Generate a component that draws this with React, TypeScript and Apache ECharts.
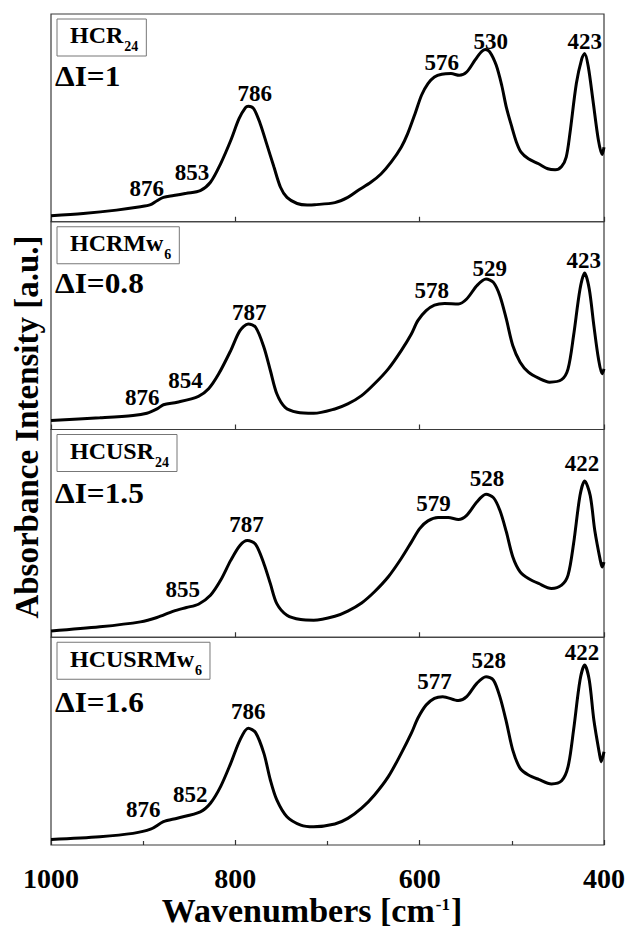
import React, { useEffect, useRef } from 'react';
import * as echarts from 'echarts';

const FONT = "'Liberation Serif', 'Times New Roman', serif";

// ---- data (wavenumber [cm-1], absorbance in relative panel units) ----
const xTickValues = [1000, 800, 600, 400];

const hcr24Wn = [1000, 965, 929, 903, 892, 885, 878, 867, 853, 838, 827, 816, 805, 796, 789, 786, 780, 773, 766, 758, 751, 744, 733, 722, 714, 692, 678, 667, 653, 642, 631, 620, 613, 605, 598, 591, 584, 576, 566, 557, 549, 540, 533, 529, 524, 517, 511, 506, 500, 495, 490, 482, 471, 461, 453, 446, 441, 437, 430, 424, 421, 417, 412, 406, 402, 400];
const hcr24Abs = [2.9, 4.0, 5.6, 7.2, 8.2, 10.1, 11.7, 12.6, 13.7, 15.0, 19.0, 27.9, 39.1, 49.6, 54.9, 55.6, 54.4, 47.2, 37.5, 26.2, 16.6, 11.7, 8.8, 8.1, 8.2, 9.2, 11.7, 15.0, 19.0, 23.0, 28.7, 35.9, 42.4, 52.0, 60.9, 66.5, 69.7, 71.0, 71.3, 70.5, 72.1, 77.8, 81.8, 82.9, 81.8, 75.4, 65.7, 55.2, 45.6, 38.3, 33.5, 30.3, 27.9, 25.5, 25.0, 26.6, 31.1, 42.4, 66.5, 78.6, 81.0, 74.5, 58.5, 39.1, 32.4, 35.9];

const hcrmw6Wn = [1000, 947, 911, 896, 885, 878, 863, 840, 829, 818, 805, 795, 786, 778, 769, 762, 755, 746, 733, 715, 692, 678, 663, 649, 634, 620, 609, 602, 593, 584, 573, 558, 549, 538, 528, 520, 513, 506, 499, 491, 482, 471, 459, 446, 439, 433, 426, 421, 416, 411, 406, 402, 400];
const hcrmw6Abs = [4.3, 5.6, 6.7, 7.8, 9.9, 11.9, 13.1, 16.0, 19.6, 26.8, 38.0, 47.6, 50.8, 49.2, 39.6, 28.4, 17.2, 10.7, 8.3, 7.8, 9.9, 12.3, 16.3, 22.0, 29.2, 38.0, 46.0, 52.4, 57.2, 59.9, 60.7, 60.4, 62.8, 69.2, 72.4, 70.8, 64.4, 53.2, 40.4, 32.4, 27.6, 24.7, 22.8, 24.0, 29.2, 45.2, 67.6, 75.3, 67.6, 50, 34, 26.8, 29.2];

const hcusr24Wn = [1000, 947, 903, 885, 867, 853, 840, 827, 816, 805, 795, 787, 778, 769, 762, 755, 744, 729, 715, 692, 678, 663, 649, 634, 620, 609, 600, 591, 580, 569, 558, 549, 538, 528, 520, 513, 506, 499, 491, 482, 471, 457, 446, 439, 433, 426, 421, 415, 410, 404, 402, 400];
const hcusr24Abs = [3.0, 5.0, 7.4, 9.5, 12.6, 14.3, 15.9, 20.2, 27.4, 37.0, 44.2, 46.6, 44.7, 35.4, 25.8, 16.2, 10.6, 8.5, 8.2, 10.1, 12.6, 16.5, 21.9, 29.1, 37.9, 45.8, 52.3, 56.0, 57.6, 57.6, 56.7, 58.7, 65.1, 68.8, 67.2, 61.1, 50.8, 38.8, 31.5, 28.3, 25.9, 23.5, 25.1, 29.9, 45.1, 68.3, 75.2, 68.3, 51.4, 37.0, 33.8, 36.2];

const hcusrmw6Wn = [1000, 947, 911, 892, 878, 863, 838, 827, 816, 805, 795, 786, 778, 769, 762, 755, 744, 729, 715, 692, 678, 663, 649, 634, 620, 609, 602, 593, 584, 575, 558, 549, 538, 528, 520, 513, 506, 499, 491, 482, 471, 457, 446, 439, 433, 426, 421, 416, 411, 405, 403, 400];
const hcusrmw6Abs = [2.7, 4.0, 5.6, 7.6, 11.2, 12.9, 16.0, 20.1, 28.1, 39.3, 50.5, 56.2, 54.1, 44.1, 31.3, 21.7, 13.6, 9.6, 8.8, 10.1, 12.8, 17.7, 24.1, 32.9, 44.1, 53.8, 61.0, 67.4, 70.6, 71.4, 69.5, 71.4, 77.8, 81.0, 79.4, 71.4, 59.4, 45.7, 36.9, 33.7, 31.6, 29.4, 30.9, 37.7, 55.4, 79.4, 86.6, 79.4, 60.2, 44.1, 40.1, 44.9];

// peak labels: text, wavenumber position, absorbance position
const hcr24PeakText = ['876', '853', '786', '576', '530', '423'];
const hcr24PeakWn = [896, 847, 779, 576, 523, 421];
const hcr24PeakAbs = [15.9, 23.7, 61.8, 76.8, 87.0, 87.0];

const hcrmw6PeakText = ['876', '854', '787', '578', '529', '423'];
const hcrmw6PeakWn = [901, 854, 785, 587, 524, 422];
const hcrmw6PeakAbs = [15.4, 23.6, 56.3, 66.8, 77.4, 81.3];

const hcusr24PeakText = ['855', '787', '579', '528', '422'];
const hcusr24PeakWn = [857, 788, 585, 527, 424];
const hcusr24PeakAbs = [23.0, 54.1, 64.6, 76.6, 83.7];

const hcusrmw6PeakText = ['876', '852', '786', '577', '528', '422'];
const hcusrmw6PeakWn = [900, 849, 786, 584, 525, 424];
const hcusrmw6PeakAbs = [16.9, 24.2, 64.3, 78.7, 88.9, 92.8];

const sampleMain = ['HCR', 'HCRMw', 'HCUSR', 'HCUSRMw'];
const sampleSub = ['24', '6', '24', '6'];
const deltaI = ['1', '0.8', '1.5', '1.6'];

const xTitleMain = 'Wavenumbers [cm';
const xTitleSup = '-1';
const xTitleEnd = ']';
const yTitle = 'Absorbance Intensity [a.u.]';

export default function App() {
  const ref = useRef<HTMLDivElement>(null);
  useEffect(() => {
    const el = ref.current!;
    const chart = echarts.init(el, null, { renderer: 'svg' });
    const ctx = document.createElement('canvas').getContext('2d')!;
    const measure = (t: string, size: number) => {
      ctx.font = `bold ${size}px ${FONT}`;
      return ctx.measureText(t).width;
    };

    const spectraWn = [hcr24Wn, hcrmw6Wn, hcusr24Wn, hcusrmw6Wn];
    const spectraAbs = [hcr24Abs, hcrmw6Abs, hcusr24Abs, hcusrmw6Abs];
    const peakText = [hcr24PeakText, hcrmw6PeakText, hcusr24PeakText, hcusrmw6PeakText];
    const peakWn = [hcr24PeakWn, hcrmw6PeakWn, hcusr24PeakWn, hcusrmw6PeakWn];
    const peakAbs = [hcr24PeakAbs, hcrmw6PeakAbs, hcusr24PeakAbs, hcusrmw6PeakAbs];

    const LEFT = 51;
    const RIGHT = 604;
    const TOP = 14;
    const PH = 207.75;
    const tops = [0, 1, 2, 3].map((i) => TOP + i * PH);
    const diOffsets = [72, 71, 74, 75];

    const grids = tops.map((t) => ({
      left: LEFT,
      width: RIGHT - LEFT,
      top: t,
      height: PH,
      show: true,
      borderColor: '#3a3a3a',
      borderWidth: 1.2,
      backgroundColor: 'transparent',
    }));

    const xAxes = tops.map((_, i) => ({
      gridIndex: i,
      type: 'value',
      min: xTickValues[xTickValues.length - 1],
      max: xTickValues[0],
      interval: 200,
      inverse: true,
      axisLine: { show: false },
      splitLine: { show: false },
      axisTick: { show: true, inside: true, length: 5, lineStyle: { color: '#333', width: 1.2 } },
      minorTick: { show: i === 3, splitNumber: 2, length: 4, lineStyle: { color: '#333', width: 1.2 } },
      axisLabel: {
        show: i === 3,
        margin: 19,
        formatter: (v: number) => String(v),
        fontFamily: FONT,
        fontWeight: 'bold',
        fontSize: 28,
        color: '#000',
      },
    }));

    const yAxes = tops.map((_, i) => ({ gridIndex: i, type: 'value', min: 0, max: 100, show: false }));

    const series: any[] = [];
    for (let i = 0; i < 4; i++) {
      series.push({
        type: 'line',
        xAxisIndex: i,
        yAxisIndex: i,
        data: spectraWn[i].map((w, k) => [w, spectraAbs[i][k]]),
        showSymbol: false,
        smooth: 0.3,
        silent: true,
        lineStyle: { color: '#000', width: 3 },
      });
      series.push({
        type: 'scatter',
        xAxisIndex: i,
        yAxisIndex: i,
        symbolSize: 0,
        silent: true,
        itemStyle: { opacity: 1, color: '#000' },
        data: peakText[i].map((t, k) => ({ name: t, value: [peakWn[i][k], peakAbs[i][k]] })),
        label: {
          show: true,
          position: 'inside',
          formatter: '{b}',
          fontFamily: FONT,
          fontWeight: 'bold',
          fontSize: 23,
          color: '#000',
          opacity: 1,
          textBorderWidth: 0,
          textShadowBlur: 0,
        },
      });
    }

    const graphic: any[] = [];
    const MAIN_FS = 24;
    const SUB_FS = 14;
    const DI_FS = 29;
    tops.forEach((t, i) => {
      const wMain = measure(sampleMain[i], MAIN_FS);
      const wSub = measure(sampleSub[i], SUB_FS);
      const boxX = 57;
      const textX = 70;
      const baseline = t + 29.5;
      graphic.push({
        type: 'rect',
        shape: { x: boxX, y: t + 5, width: textX - boxX + wMain + 1 + wSub + 8, height: 37 },
        style: { fill: '#fff', stroke: '#777', lineWidth: 1 },
        silent: true,
      });
      graphic.push({
        type: 'text',
        x: textX,
        y: baseline - 0.3375 * MAIN_FS,
        style: { text: sampleMain[i], fontFamily: FONT, fontWeight: 'bold', fontSize: MAIN_FS, fill: '#000', align: 'left', verticalAlign: 'middle' },
        silent: true,
      });
      graphic.push({
        type: 'text',
        x: textX + wMain + 1,
        y: baseline + 8 - 0.3375 * SUB_FS,
        style: { text: sampleSub[i], fontFamily: FONT, fontWeight: 'bold', fontSize: SUB_FS, fill: '#000', align: 'left', verticalAlign: 'middle' },
        silent: true,
      });
      graphic.push({
        type: 'text',
        x: 55,
        y: t + diOffsets[i] - 0.3375 * DI_FS,
        scaleX: 1.08,
        style: { text: 'ΔI=' + deltaI[i], fontFamily: FONT, fontWeight: 'bold', fontSize: DI_FS, fill: '#000', align: 'left', verticalAlign: 'middle' },
        silent: true,
      });
    });

    // x axis title
    const XT_FS = 34;
    const SUP_FS = 17;
    const w1 = measure(xTitleMain, XT_FS);
    const w2 = measure(xTitleSup, SUP_FS);
    const w3 = measure(xTitleEnd, XT_FS);
    const total = w1 + w2 + w3;
    const xStart = 311 - total / 2;
    const xBase = 922;
    graphic.push({
      type: 'text', x: xStart, y: xBase - 0.3375 * XT_FS,
      style: { text: xTitleMain, fontFamily: FONT, fontWeight: 'bold', fontSize: XT_FS, fill: '#000', align: 'left', verticalAlign: 'middle' },
      silent: true,
    });
    graphic.push({
      type: 'text', x: xStart + w1 + 1, y: 904,
      style: { text: xTitleSup, fontFamily: FONT, fontWeight: 'bold', fontSize: SUP_FS, fill: '#000', align: 'left', verticalAlign: 'middle' },
      silent: true,
    });
    graphic.push({
      type: 'text', x: xStart + w1 + w2 + 2, y: xBase - 0.3375 * XT_FS,
      style: { text: xTitleEnd, fontFamily: FONT, fontWeight: 'bold', fontSize: XT_FS, fill: '#000', align: 'left', verticalAlign: 'middle' },
      silent: true,
    });

    // y axis title
    graphic.push({
      type: 'text', x: 27, y: 427, rotation: Math.PI / 2,
      style: { text: yTitle, fontFamily: FONT, fontWeight: 'bold', fontSize: 33, fill: '#000', align: 'center', verticalAlign: 'middle' },
      silent: true,
    });

    chart.setOption({
      animation: false,
      backgroundColor: '#fff',
      grid: grids,
      xAxis: xAxes,
      yAxis: yAxes,
      series,
      graphic,
    });
    return () => chart.dispose();
  }, []);
  return <div ref={ref} style={{ position: 'absolute', left: 0, top: 0, width: 628, height: 928 }} />;
}
